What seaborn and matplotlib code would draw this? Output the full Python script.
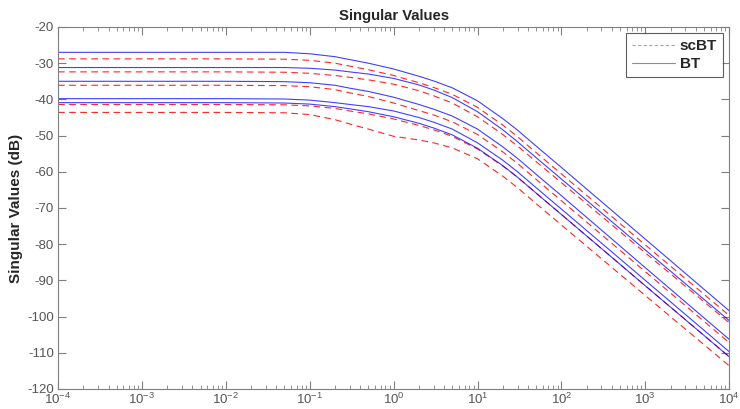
import matplotlib
matplotlib.use("Agg")
import matplotlib.pyplot as plt
from matplotlib.ticker import LogLocator, NullFormatter
from matplotlib.lines import Line2D
import seaborn as sns
import numpy as np

freq = [1e-4, 1e-2, 0.05, 0.1, 0.2, 0.3, 0.5, 1, 2, 3, 5, 10, 20, 30, 50, 100, 1000, 10000]

# BT singular values (dB)
bt1 = [-27.0, -27.0, -27.0, -27.4, -28.2, -29.0, -30.0, -31.6, -33.6, -34.9, -36.8, -40.4, -45.3, -48.5, -52.9, -58.8, -78.6, -98.4]
bt2 = [-31.2, -31.2, -31.2, -31.4, -31.9, -32.4, -33.0, -34.2, -36.0, -37.4, -39.5, -43.4, -48.4, -51.7, -56.1, -62.0, -81.6, -101.1]
bt3 = [-35.0, -35.0, -35.1, -35.4, -36.1, -36.9, -37.8, -39.4, -41.4, -42.7, -44.6, -48.2, -53.1, -56.3, -60.7, -66.6, -86.5, -106.3]
bt4 = [-39.8, -39.8, -39.9, -40.2, -40.9, -41.4, -42.0, -43.2, -45.0, -46.3, -48.2, -52.0, -56.8, -60.0, -64.4, -70.3, -90.0, -109.7]
bt5 = [-40.9, -40.9, -41.0, -41.3, -42.0, -42.6, -43.4, -44.8, -46.6, -47.9, -49.8, -53.5, -58.3, -61.5, -65.9, -71.8, -91.5, -111.1]

# scBT singular values (dB)
sc1 = [-28.8, -28.8, -28.9, -29.2, -30.0, -30.8, -31.8, -33.4, -35.4, -36.7, -38.6, -42.2, -47.1, -50.3, -54.7, -60.6, -80.2, -99.7]
sc2 = [-32.4, -32.4, -32.5, -32.8, -33.4, -33.9, -34.6, -35.8, -37.6, -39.0, -41.0, -44.8, -49.7, -52.9, -57.2, -63.0, -82.4, -101.7]
sc3 = [-36.1, -36.1, -36.2, -36.5, -37.3, -38.2, -39.2, -41.0, -43.1, -44.3, -46.2, -49.7, -54.5, -57.7, -62.1, -68.0, -87.6, -107.2]
sc4 = [-41.4, -41.4, -41.5, -41.8, -42.5, -43.2, -44.0, -45.4, -47.2, -48.4, -50.2, -53.7, -58.4, -61.5, -65.9, -71.8, -91.5, -111.1]
sc5 = [-43.6, -43.6, -43.7, -44.2, -45.6, -46.8, -48.2, -50.2, -51.2, -52.0, -53.4, -56.4, -61.2, -64.4, -68.8, -74.7, -94.2, -113.6]

bt = [bt1, bt2, bt3, bt4, bt5]
sc = [sc1, sc2, sc3, sc4, sc5]

sns.set_style("ticks")
plt.rcParams['font.family'] = ['Liberation Sans', 'DejaVu Sans']
plt.rcParams['axes.unicode_minus'] = False
plt.rcParams['mathtext.fontset'] = 'custom'
plt.rcParams['mathtext.rm'] = 'Liberation Sans'
plt.rcParams['mathtext.default'] = 'regular'

fig = plt.figure(figsize=(7.4, 4.09), dpi=100)
ax = fig.add_axes([0.0784, 0.049, 0.907, 0.885])

for s in sc:
    sns.lineplot(x=freq, y=s, ax=ax, color='#ff0000', linestyle=(0, (6, 4)),
                 linewidth=0.8, estimator=None, alpha=0.85)
for b in bt:
    sns.lineplot(x=freq, y=b, ax=ax, color='#0000ff', linewidth=0.8,
                 estimator=None, alpha=0.75)

ax.set_xscale('log')
ax.set_xlim(1e-4, 1e4)
ax.set_ylim(-120, -20)
ax.set_yticks(np.arange(-120, -19, 10))
ax.xaxis.set_major_locator(LogLocator(base=10, numticks=20))
ax.xaxis.set_minor_locator(LogLocator(base=10, subs=np.arange(2, 10), numticks=100))
ax.xaxis.set_minor_formatter(NullFormatter())

grey = '#7f7f7f'
for sp in ax.spines.values():
    sp.set_color(grey)
    sp.set_linewidth(0.8)
ax.tick_params(axis='both', which='both', direction='in', top=True, right=True,
               colors=grey, labelcolor='#555555', labelsize=9.5)
ax.tick_params(axis='x', which='major', pad=2)
ax.tick_params(axis='y', which='major', pad=3)
ax.tick_params(which='major', length=6, width=0.8)
ax.tick_params(which='minor', length=3, width=0.6)

ax.set_title('Singular Values', fontsize=10.7, fontweight='bold', pad=5)
ax.set_ylabel('Singular Values (dB)', fontsize=11, fontweight='bold', labelpad=3)
ax.set_xlabel('')

handles = [Line2D([], [], color='#ff0000', linestyle=(0, (3, 2)), linewidth=0.8, alpha=0.5),
           Line2D([], [], color='#0000ff', linewidth=0.8, alpha=0.5)]
leg = ax.legend(handles, ['scBT', 'BT'], loc='upper right', frameon=True, fancybox=False,
                handlelength=2.8, handletextpad=0.3, borderpad=0.4, labelspacing=0.25,
                prop={'weight': 'bold', 'size': 11}, borderaxespad=0.4)
leg.get_frame().set_edgecolor('#333333')
leg.get_frame().set_linewidth(0.8)

fig.savefig('out.png', dpi=100)
